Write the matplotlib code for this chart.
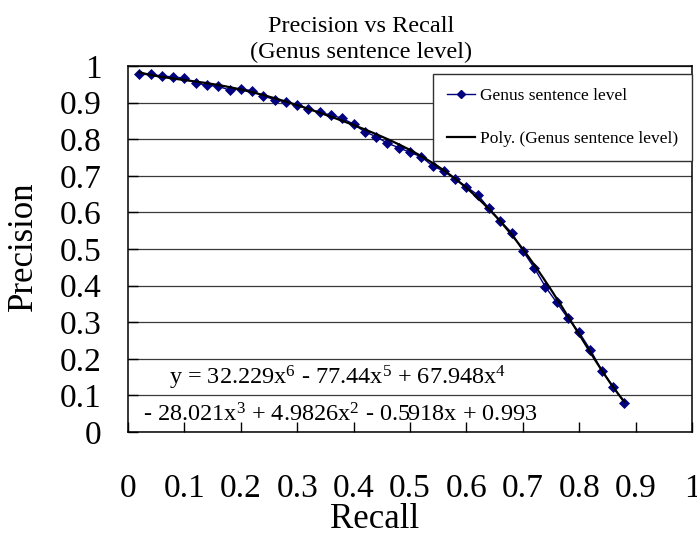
import numpy as np
import matplotlib
matplotlib.use("Agg")
import matplotlib.pyplot as plt
from matplotlib.lines import Line2D

plt.rcParams['font.family'] = ['Liberation Serif', 'DejaVu Serif']
plt.rcParams['mathtext.fontset'] = 'custom'
plt.rcParams['mathtext.rm'] = 'Liberation Serif'
plt.rcParams['mathtext.default'] = 'regular'

# ---- data ----
recall = [0.02, 0.04, 0.06, 0.08, 0.10, 0.12, 0.14, 0.16, 0.18, 0.20,
          0.22, 0.24, 0.26, 0.28, 0.30, 0.32, 0.34, 0.36, 0.38, 0.40,
          0.42, 0.44, 0.46, 0.48, 0.50, 0.52, 0.54, 0.56, 0.58, 0.60,
          0.62, 0.64, 0.66, 0.68, 0.70, 0.72, 0.74, 0.76, 0.78, 0.80,
          0.82, 0.84, 0.86, 0.88]
precision = [0.977, 0.977, 0.973, 0.970, 0.967, 0.954, 0.947, 0.945, 0.934, 0.938,
             0.932, 0.918, 0.908, 0.902, 0.893, 0.882, 0.873, 0.866, 0.857, 0.841,
             0.820, 0.807, 0.789, 0.777, 0.764, 0.752, 0.727, 0.713, 0.691, 0.670,
             0.648, 0.611, 0.577, 0.545, 0.495, 0.449, 0.397, 0.354, 0.311, 0.272,
             0.224, 0.168, 0.124, 0.080]
# trendline coefficients (highest power first), as printed on the chart
poly_coef = [32.229, -77.44, 67.948, -28.021, 4.9826, -0.5918, 0.993]

x_ticks = [0, 0.1, 0.2, 0.3, 0.4, 0.5, 0.6, 0.7, 0.8, 0.9, 1.0]
x_tick_labels = ['0', '0.1', '0.2', '0.3', '0.4', '0.5', '0.6', '0.7', '0.8', '0.9', '1']
y_ticks = [0, 0.1, 0.2, 0.3, 0.4, 0.5, 0.6, 0.7, 0.8, 0.9, 1.0]
y_tick_labels = ['0', '0.1', '0.2', '0.3', '0.4', '0.5', '0.6', '0.7', '0.8', '0.9', '1']

series_label = 'Genus sentence level'
trend_label = 'Poly. (Genus sentence level)'
eq_line1 = 'y = 32.229x$^{6}$ - 77.44x$^{5}$ + 67.948x$^{4}$'
eq_line2 = '- 28.021x$^{3}$ + 4.9826x$^{2}$ - 0.5918x + 0.993'

W, H = 697, 535
fig = plt.figure(figsize=(W / 100, H / 100), dpi=100)

def fx(px):
    return px / W

def fy(py):
    return 1 - py / H

ax_l, ax_r, ax_t, ax_b = 128, 692, 66, 432
ax = fig.add_axes([fx(ax_l), fy(ax_b), fx(ax_r) - fx(ax_l), (ax_b - ax_t) / H])

navy = '#000080'
ax.plot(recall, precision, color=navy, lw=1.0, marker='D', markersize=5.2,
        markeredgewidth=0.5, markeredgecolor=navy, markerfacecolor=navy, zorder=3)
xt = np.linspace(min(recall), max(recall), 300)
ax.plot(xt, np.polyval(poly_coef, xt), color='black', lw=1.6, zorder=4)

ax.set_xlim(0, 1)
ax.set_ylim(0, 1)
ax.set_xticks(x_ticks)
ax.set_xticklabels(x_tick_labels)
ax.set_yticks(y_ticks)
ax.set_yticklabels(y_tick_labels)
ax.tick_params(axis='x', direction='in', length=7, width=1, labelsize=24, pad=30)
ax.tick_params(axis='y', direction='in', length=7, width=1, labelsize=24, pad=19)
ax.yaxis.grid(True, color='#3a3a3a', lw=0.9)
ax.set_axisbelow(True)
for s in ax.spines.values():
    s.set_color('black')
    s.set_linewidth(1.1)

# titles and axis labels
fig.text(fx(361), fy(32), 'Precision vs Recall', ha='center', va='baseline', fontsize=17.5)
fig.text(fx(361), fy(58), '(Genus sentence level)', ha='center', va='baseline', fontsize=17.5)
fig.text(fx(375), fy(528), 'Recall', ha='center', va='baseline', fontsize=25)
fig.text(fx(23), fy(246), 'Precision', ha='center', va='center', rotation=90, fontsize=25)

# trendline equation
fig.text(fx(338), fy(384), eq_line1, ha='center', va='baseline', fontsize=17.5)
fig.text(fx(340), fy(422), eq_line2, ha='center', va='baseline', fontsize=17.5)

# legend
handles = [Line2D([], [], color=navy, lw=1.0, marker='D', markersize=4.5,
                  markerfacecolor=navy, markeredgecolor=navy),
           Line2D([], [], color='black', lw=1.6)]
leg = fig.legend(handles, [series_label, trend_label], loc='upper right',
                 bbox_to_anchor=(fx(692), fy(74)), bbox_transform=fig.transFigure,
                 fontsize=12.5, frameon=True, fancybox=False, shadow=False,
                 handlelength=1.6, handletextpad=0.3, labelspacing=1.55,
                 borderpad=0.8, borderaxespad=0, numpoints=1)
leg.get_frame().set_edgecolor('#303030')
leg.get_frame().set_linewidth(1.0)
leg.get_frame().set_facecolor('white')
leg.get_frame().set_alpha(1)

fig.savefig('out.png', dpi=100)
